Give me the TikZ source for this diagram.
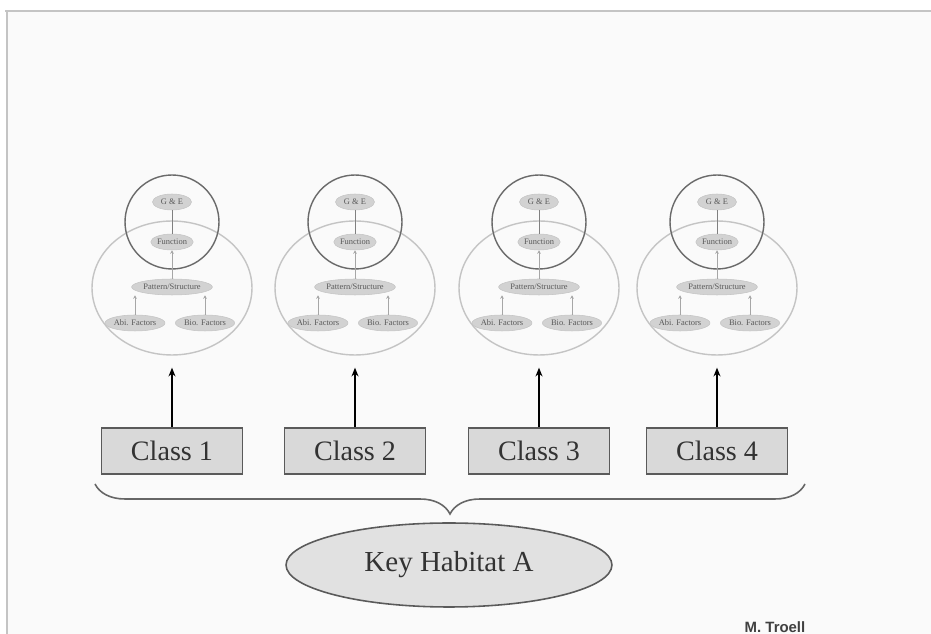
\documentclass[tikz,border=0pt]{standalone}
\usepackage{fontspec}
\setmainfont{Liberation Serif}
\newfontfamily\signfont{Liberation Sans}
\usepackage{tikz}
\usetikzlibrary{shapes.geometric,decorations.pathreplacing,arrows.meta}

\definecolor{boxfill}{HTML}{D9D9D9}
\definecolor{boxline}{HTML}{5A5A5A}
\definecolor{ringdark}{HTML}{6A6A6A}
\definecolor{ringlight}{HTML}{C4C4C4}
\definecolor{smallfill}{HTML}{D2D2D2}

\tikzset{
	classbox/.style={rectangle, draw=boxline, fill=boxfill, line width=0.9pt, minimum width=2.82cm, minimum height=0.92cm, font=\fontsize{16}{18}\selectfont, text=black!80},
	habitat/.style={ellipse, draw=boxline, fill=boxfill!80!white, line width=0.9pt, minimum width=6.52cm, minimum height=1.68cm, font=\fontsize{16.5}{18}\selectfont, text=black!80},
	ring/.style={circle, draw=ringdark, line width=0.8pt, minimum size=1.88cm, inner sep=0pt},
	outer/.style={ellipse, draw=ringlight, line width=0.8pt, minimum width=3.2cm, minimum height=2.68cm, inner sep=0pt},
	small/.style={ellipse, fill=smallfill, draw=ringlight, line width=0.3pt, inner sep=0pt, minimum height=0.32cm, font=\fontsize{4.8}{5}\selectfont, text=black!65},
	tiny/.style={-{Stealth[length=2pt,width=2pt]}, draw=black!35, line width=0.3pt}
}

\begin{document}
\begin{tikzpicture}[x=0.02cm, y=-0.02cm]
	\useasboundingbox (0,0) rectangle (931,634);
	\fill[white!98!black] (7,11) rectangle (931,634);
	
	% Frame
	\draw[ringlight, line width=1.6pt] (5,11) -- (931,11);
	\draw[ringlight, line width=1.6pt] (7,11) -- (7,634);
	
	% Define nodes
	\foreach \i/\x in {1/172, 2/355, 3/539, 4/717} {
		\node [outer] (big\i) at (\x,288) {};
		\node [ring] (top\i) at (\x,222) {};
		\node [small, minimum width=0.78cm] (ge\i) at (\x,202) {G \& E};
		\node [small, minimum width=0.8cm] (fn\i) at (\x,242) {Function};
		\node [small, minimum width=1.56cm] (ps\i) at (\x,287) {Pattern/Structure};
		\node [small, minimum width=1.02cm] (abi\i) at (\x-37,323) {Abi. Factors};
		\node [small, minimum width=1.02cm] (bio\i) at (\x+33,323) {Bio. Factors};
		\node [classbox] (cls\i) at (\x,451) {Class \i};
		
		% Draw edges
		\draw[black!50, line width=0.3pt] (ge\i) -- (fn\i);
		\draw[tiny] (ps\i) -- (fn\i);
		\draw[tiny] (abi\i) -- (ps\i.south -| abi\i);
		\draw[tiny] (bio\i) -- (ps\i.south -| bio\i);
		\draw[-{Stealth[length=5pt,width=4pt]}, line width=0.6pt, shorten >=0.24cm] (cls\i) -- (big\i.south);
	}
	
	% Brace and habitat
	\coordinate (bl) at (95,484);
	\coordinate (br) at (805,484);
	\draw[decorate, decoration={brace, mirror, amplitude=0.6cm}, black!60, line width=0.9pt] (bl) -- (br);
	\node [habitat] (hab) at (449,565) {Key Habitat A};
	
	\node [font=\signfont\bfseries\fontsize{8.5}{10}\selectfont, text=black!75] (sign) at (775,627) {M. Troell};
\end{tikzpicture}
\end{document}
